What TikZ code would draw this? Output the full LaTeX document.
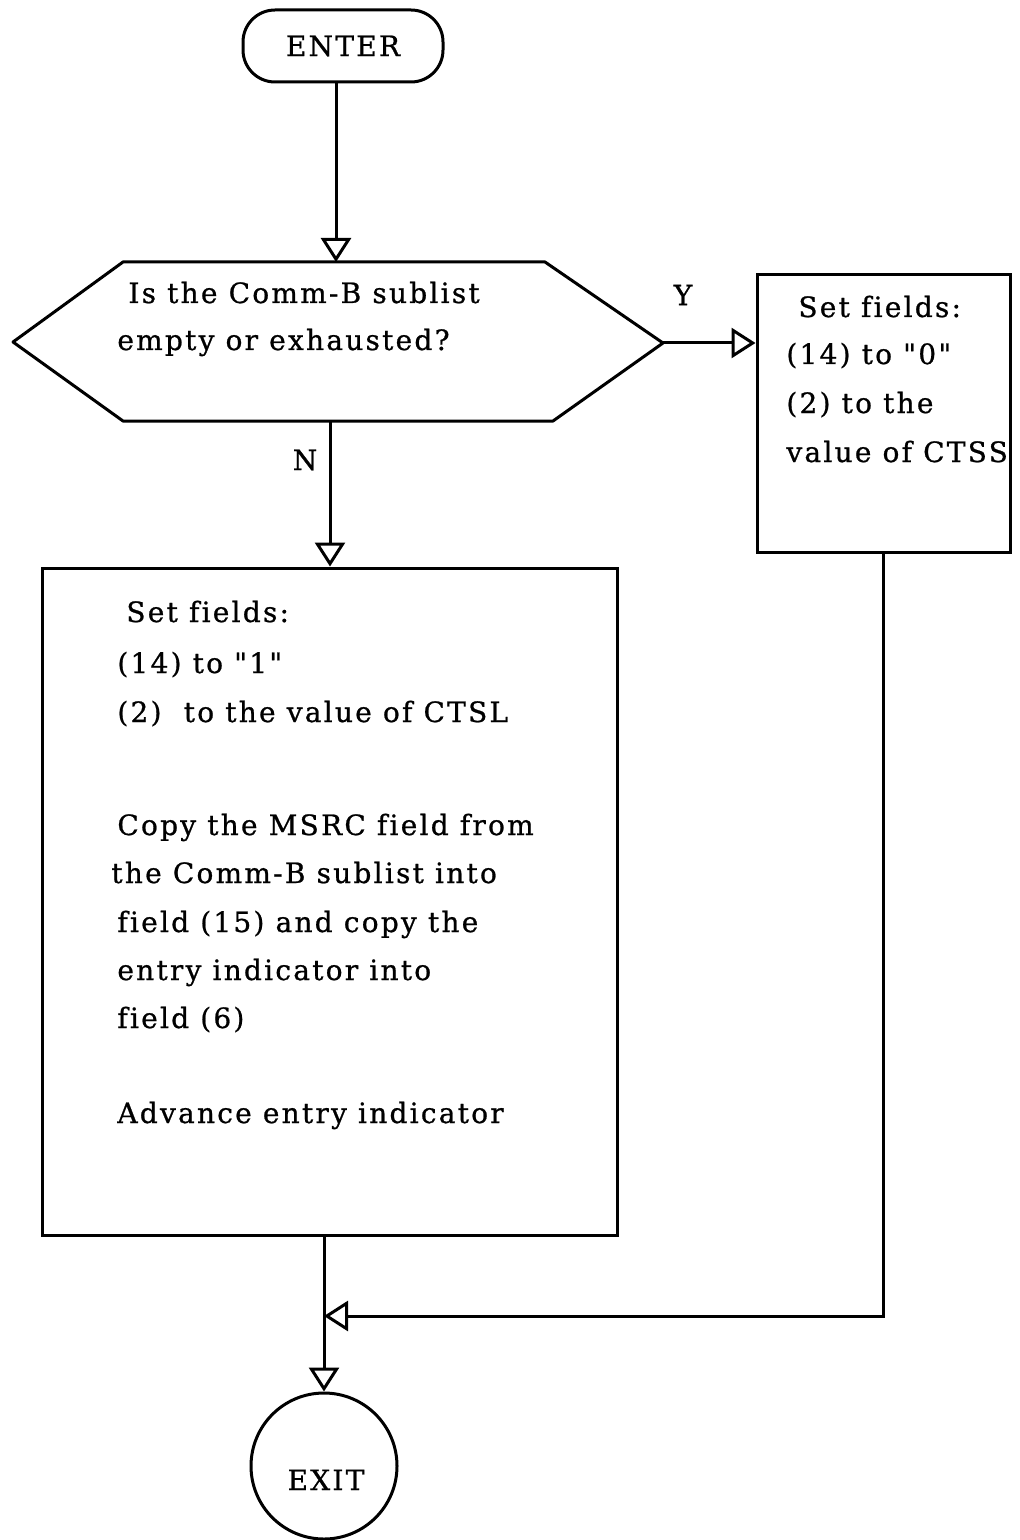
\documentclass[tikz,border=0pt]{standalone}
\usepackage{fontspec}
\setmainfont{DejaVu Serif}[LetterSpace=8,Ligatures={TeXOff,NoCommon},FakeBold=0.8]
\usetikzlibrary{arrows.meta}
\begin{document}
\begin{tikzpicture}[x=0.5pt,y=-0.5pt,
  every node/.style={font=\fontsize{14}{16}\selectfont},
  ln/.style={line width=1.5pt},
  arr/.style={ln,-{Triangle[open,length=12pt,width=15pt,line width=1.5pt]}},
  txt/.style={anchor=base west,inner sep=0pt},
  boxnode/.style={draw,line width=1.5pt,inner sep=0pt}]
\useasboundingbox (0,0) rectangle (1019,1540);
% ENTER
\node[boxnode,rounded corners=16pt,minimum width=100pt,minimum height=36pt] (enter) at (343,46) {ENTER};
% decision hexagon
\draw[ln,line join=round] (13,342) -- (123,262) -- (545,262) -- (663,343) -- (553,421) -- (123,421) -- cycle;
\coordinate (dtop) at (336,262);
\coordinate (dright) at (663,343);
\coordinate (dbot) at (330,421);
\node[txt] (q1) at (128,303) {Is the Comm-B sublist};
\node[txt] (q2) at (117,350) {empty or exhausted?};
\node (Y) at (683,295) {Y};
\node (N) at (305,460) {N};
% right box
\node[boxnode,minimum width=126.5pt,minimum height=138.5pt] (rbox) at (883.5,413.5) {};
\node[txt] (r1) at (798,317) {Set fields:};
\node[txt] (r2) at (786,364) {(14) to "0"};
\node[txt] (r3) at (786,413) {(2) to the};
\node[txt] (r4) at (786,462) {value of CTSS};
% left box
\node[boxnode,minimum width=287.5pt,minimum height=333.5pt] (lbox) at (329.5,901.5) {};
\node[txt] (l1) at (126,622) {Set fields:};
\node[txt] (l2) at (117,673) {(14) to "1"};
\node[txt] (l3) at (117,722) {(2)\ \ to the value of CTSL};
\node[txt] (l4) at (117,835) {Copy the MSRC field from};
\node[txt] (l5) at (111,883) {the Comm-B sublist into};
\node[txt] (l6) at (117,932) {field (15) and copy the};
\node[txt] (l7) at (117,980) {entry indicator into};
\node[txt] (l8) at (117,1028) {field (6)};
\node[txt] (l9) at (117,1123) {Advance entry indicator};
% exit
\node[boxnode,circle,minimum size=73pt] (exit) at (324,1466) {};
\node[anchor=base,inner sep=0pt] (exitT) at (326,1490) {EXIT};
% connectors
\coordinate (merge) at (324,1316);
\draw[arr] (enter.south -| dtop) -- (dtop);
\draw[arr] (dright) -- (dright -| rbox.west);
\draw[arr] (dbot) -- (dbot |- lbox.north);
\draw[arr] (lbox.south -| exit.north) -- (exit.north);
\draw[arr] (rbox.south) |- (merge);
\end{tikzpicture}
\end{document}
